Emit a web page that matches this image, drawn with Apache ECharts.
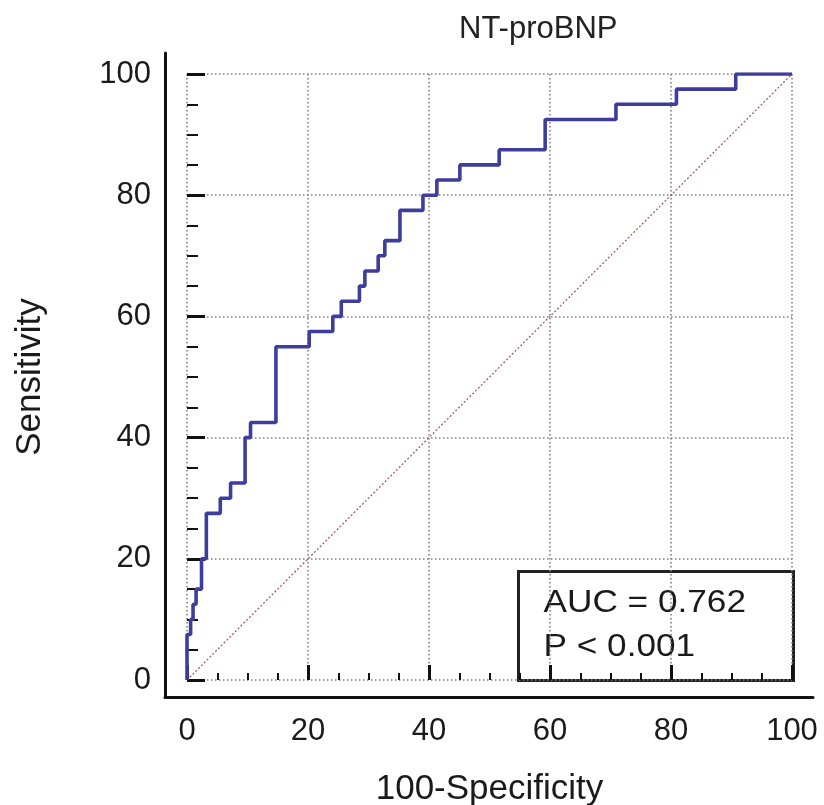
<!DOCTYPE html>
<html>
<head>
<meta charset="utf-8">
<script src="https://cdn.jsdelivr.net/npm/echarts@6/dist/echarts.min.js"></script>
<style>
html,body{margin:0;padding:0;background:#fff;}
#chart{width:824px;height:805px;}
</style>
</head>
<body>
<div id="chart"></div>
<script>
// ROC curve vertices (100-Specificity, Sensitivity)
const fpr = [0, 0, 0.6, 1.0, 1.5, 2.4, 3.2, 5.5, 7.2, 9.6, 10.5, 14.7, 20.2, 24.1, 25.5, 28.5, 29.4, 31.6, 32.7, 35.2, 39.0, 41.3, 45.1, 51.6, 59.2, 70.9, 80.9, 90.7, 100];
const tpr = [0, 7.5, 10, 12.5, 15, 20, 27.5, 30, 32.5, 40, 42.5, 55, 57.5, 60, 62.5, 65, 67.5, 70, 72.5, 77.5, 80, 82.5, 85, 87.5, 92.5, 95, 97.5, 100, 100];
const diagX = [0, 100];
const diagY = [0, 100];
const xTicks = [0, 20, 40, 60, 80, 100];
const yTicks = [0, 20, 40, 60, 80, 100];
const titleText = 'NT-proBNP';
const xName = '100-Specificity';
const yName = 'Sensitivity';
const statLines = ['AUC = 0.762', 'P < 0.001'];

const FONT = "'Liberation Sans', Arial, sans-serif";
const chart = echarts.init(document.getElementById('chart'), null, {renderer: 'canvas'});

const rocData = fpr.map((x, i) => [x, tpr[i]]);
const diagData = diagX.map((x, i) => [x, diagY[i]]);

const gridLine = {show: true, lineStyle: {color: '#808080', width: 1.6, type: [1.5, 2.5]}};

chart.setOption({
  animation: false,
  backgroundColor: '#fff',
  title: {
    text: titleText, left: 454, top: 9,
    textStyle: {fontFamily: FONT, fontSize: 31, fontWeight: 'normal', color: '#222'}
  },
  grid: [
    {left: 187, top: 74, width: 605, height: 606, containLabel: false, outerBoundsMode: 'none'},
    {left: 165, top: 53, width: 648, height: 644, containLabel: false, outerBoundsMode: 'none'}
  ],
  xAxis: [
    {
      type: 'value', gridIndex: 0, min: 0, max: 100, interval: 20, offset: 17,
      axisLine: {show: false},
      axisTick: {show: true, inside: true, length: 15, lineStyle: {color: '#111', width: 3}},
      minorTick: {show: true, splitNumber: 4, length: 7, lineStyle: {color: '#111', width: 2}},
      axisLabel: {margin: 19, fontFamily: FONT, fontSize: 31, color: '#1a1a1a',
        formatter: v => xTicks.includes(v) ? String(v) : ''},
      splitLine: gridLine,
      name: xName, nameLocation: 'middle', nameGap: 75,
      nameTextStyle: {fontFamily: FONT, fontSize: 35, color: '#1a1a1a'}
    },
    {
      type: 'value', gridIndex: 1, min: 0, max: 1,
      axisLine: {show: true, lineStyle: {color: '#111', width: 3}},
      axisTick: {show: false}, axisLabel: {show: false}, splitLine: {show: false}
    }
  ],
  yAxis: [
    {
      type: 'value', gridIndex: 0, min: 0, max: 100, interval: 20, offset: 22,
      axisLine: {show: false},
      axisTick: {show: true, inside: true, length: 18, lineStyle: {color: '#111', width: 3}},
      minorTick: {show: true, splitNumber: 4, length: 11, lineStyle: {color: '#111', width: 2}},
      axisLabel: {margin: 14, fontFamily: FONT, fontSize: 31, color: '#1a1a1a',
        formatter: v => yTicks.includes(v) ? String(v) : ''},
      splitLine: gridLine,
      name: yName, nameLocation: 'middle', nameGap: 117,
      nameTextStyle: {fontFamily: FONT, fontSize: 35, color: '#1a1a1a'}
    },
    {
      type: 'value', gridIndex: 1, min: 0, max: 1,
      axisLine: {show: true, lineStyle: {color: '#111', width: 3}},
      axisTick: {show: false}, axisLabel: {show: false}, splitLine: {show: false}
    }
  ],
  series: [
    {
      type: 'line', xAxisIndex: 0, yAxisIndex: 0, data: diagData,
      symbol: 'none', lineStyle: {color: '#a85e5e', width: 1.3, type: [2, 2]}, z: 2
    },
    {
      type: 'line', xAxisIndex: 0, yAxisIndex: 0, data: rocData, step: 'end',
      symbol: 'none', lineStyle: {color: '#3d3d9e', width: 3.6}, z: 3
    }
  ],
  graphic: [
    {
      type: 'group', left: 517, top: 570, z: 10,
      children: [
        {type: 'rect', shape: {x: 0, y: 0, width: 275, height: 109},
          style: {fill: '#fff', stroke: '#222', lineWidth: 3}},
        {type: 'text', x: 25, y: 16, scaleX: 1.1, style: {text: statLines[0], font: "32px 'Liberation Sans', Arial, sans-serif", fill: '#1a1a1a'}},
        {type: 'text', x: 25, y: 60, scaleX: 1.1, style: {text: statLines[1], font: "32px 'Liberation Sans', Arial, sans-serif", fill: '#1a1a1a'}}
      ]
    }
  ]
});
</script>
</body>
</html>
